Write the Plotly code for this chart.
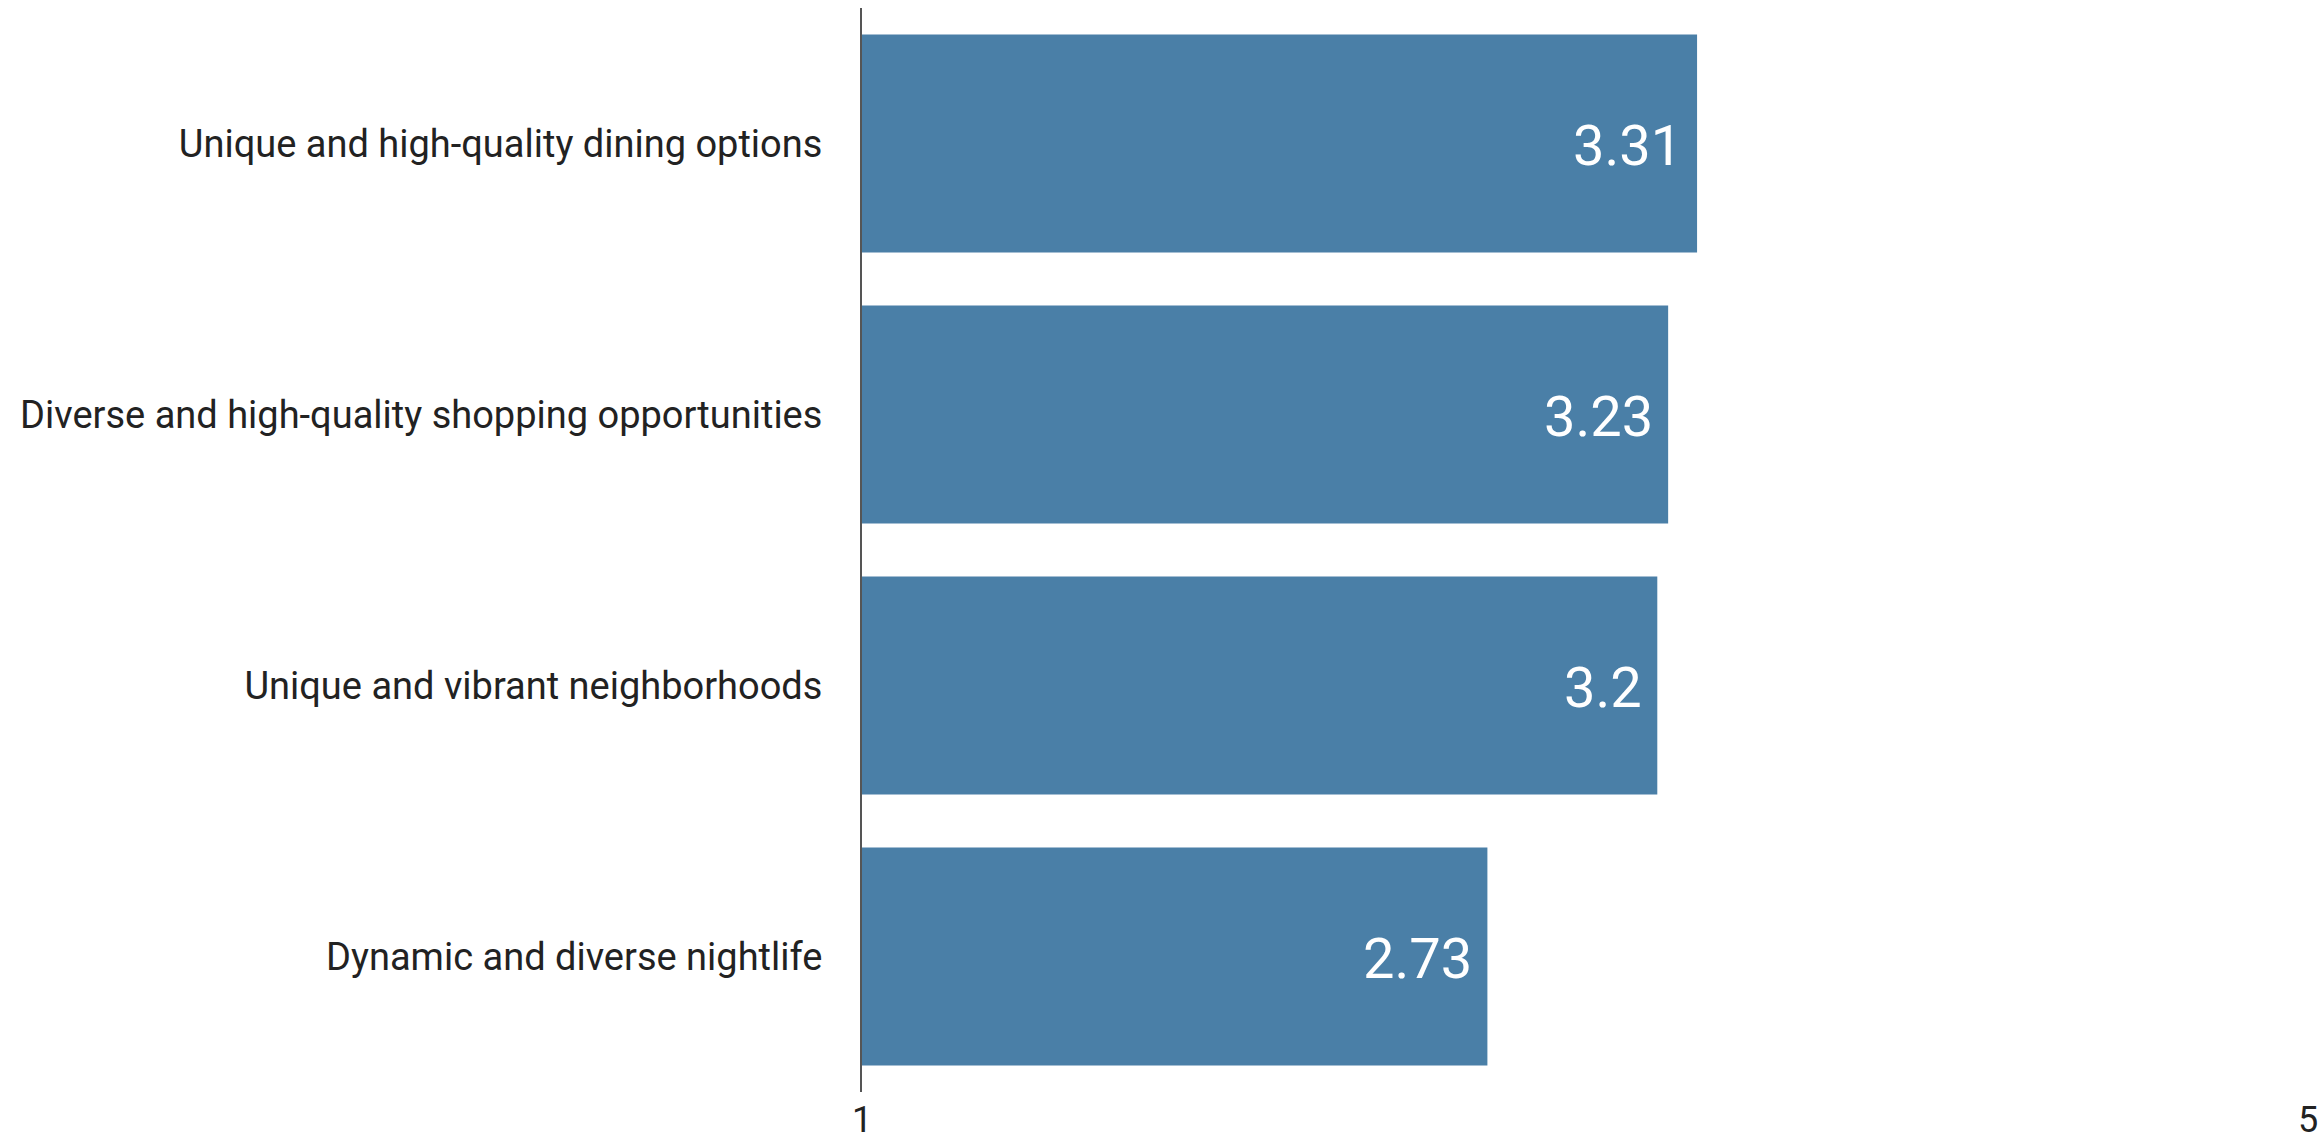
import plotly.graph_objects as go

# Survey attributes (top to bottom) and their mean ratings on a 1-5 scale
categories = [
    "Unique and high-quality dining options",
    "Diverse and high-quality shopping opportunities",
    "Unique and vibrant neighborhoods",
    "Dynamic and diverse nightlife",
]
ratings = [3.31, 3.23, 3.2, 2.73]
scale_ticks = [1, 5]
scale_labels = ["1", "5"]

BAR_COLOR = "#4a7fa7"
FONT = "Roboto"

fig = go.Figure(
    go.Bar(
        x=ratings,
        y=categories,
        orientation="h",
        marker=dict(color=BAR_COLOR, line=dict(width=0)),
        hoverinfo="skip",
    )
)

# Value labels sitting inside the right end of each bar
for cat, val in zip(categories, ratings):
    fig.add_annotation(
        x=val,
        y=cat,
        xref="x",
        yref="y",
        text=f"{val:g}",
        showarrow=False,
        xanchor="right",
        xshift=-13,
        yshift=-2,
        font=dict(family=FONT, size=56, color="white"),
    )

fig.update_layout(
    width=2318,
    height=1139,
    margin=dict(l=862, r=10, t=8, b=47, autoexpand=False),
    plot_bgcolor="white",
    paper_bgcolor="white",
    bargap=0.195,
    showlegend=False,
    font=dict(family=FONT, color="#222222"),
)

fig.update_xaxes(
    range=[1, 5],
    tickvals=scale_ticks,
    ticktext=scale_labels,
    showgrid=True,
    gridcolor="#d0d0d0",
    gridwidth=2,
    zeroline=False,
    showline=False,
    ticks="",
    automargin=False,
    ticklabeloverflow="allow",
    tickfont=dict(family=FONT, size=36, color="#222222"),
    ticklabelstandoff=3,
)

fig.update_yaxes(
    categoryorder="array",
    categoryarray=categories,
    autorange="reversed",
    showgrid=False,
    zeroline=False,
    showline=True,
    linecolor="#555555",
    linewidth=2,
    ticks="",
    automargin=False,
    tickfont=dict(family=FONT, size=38, color="#222222"),
    ticklabelstandoff=30,
)

fig.write_html("out.html")
